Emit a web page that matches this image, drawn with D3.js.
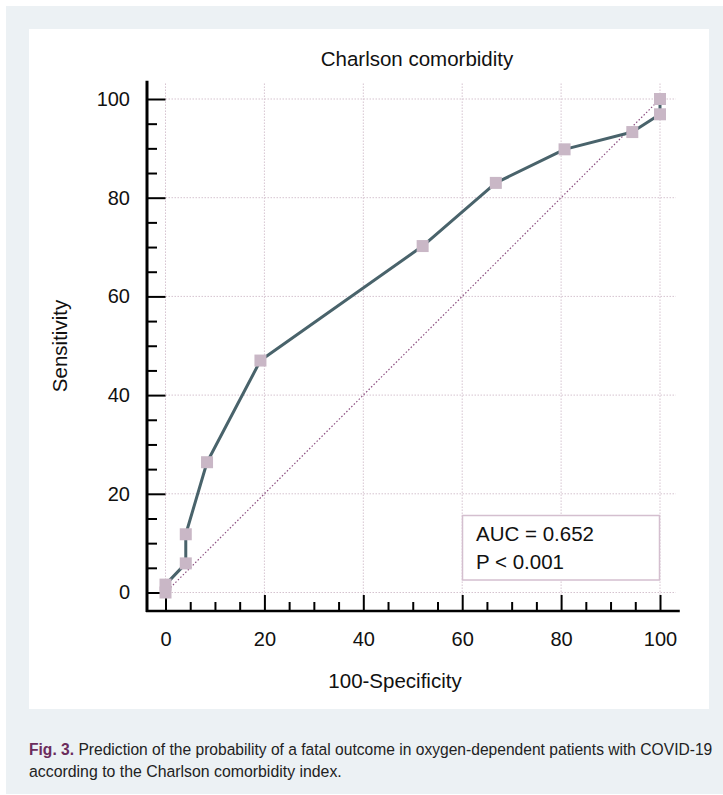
<!DOCTYPE html>
<html>
<head>
<meta charset="utf-8">
<script src="https://cdn.jsdelivr.net/npm/d3@7"></script>
<style>
  body { margin: 0; background: #fff; }
  svg { display: block; font-family: "Liberation Sans", Arial, sans-serif; }
</style>
</head>
<body>
<div id="chart"></div>
<script>
// data
const specComplement = [0, 0, 4.1, 4.1, 8.4, 19.2, 52, 66.8, 80.7, 94.4, 100, 100];
const sensitivity = [0, 1.6, 5.9, 11.8, 26.4, 47, 70.2, 83, 89.8, 93.3, 96.9, 100];
const majorTicks = [0, 20, 40, 60, 80, 100];
const minorTicks = [5, 10, 15, 25, 30, 35, 45, 50, 55, 65, 70, 75, 85, 90, 95];
const aucText = ["AUC = 0.652", "P < 0.001"];
const points = specComplement.map((x, i) => ({ x: x, y: sensitivity[i] }));

const W = 723, H = 795;
const svg = d3.select("#chart").append("svg").attr("width", W).attr("height", H);

// panel background
svg.append("rect").attr("x", 6).attr("y", 6).attr("width", W - 6).attr("height", 788).attr("fill", "#ecf1f4");
svg.append("rect").attr("x", 29).attr("y", 29).attr("width", 680).attr("height", 680).attr("fill", "#fff");

// scales
const xScale = d3.scaleLinear().domain([0, 100]).range([165.5, 660]);
const yScale = d3.scaleLinear().domain([0, 100]).range([592.5, 99]);
const axisX = 147;   // y axis line position
const axisY = 611;   // x axis line position

// grid
const grid = svg.append("g").attr("stroke", "#d5c3cf").attr("stroke-width", 1).attr("stroke-dasharray", "1.5,1.5");
grid.selectAll(".gh").data(majorTicks).enter().append("line")
  .attr("x1", xScale(0)).attr("x2", xScale(103.2))
  .attr("y1", d => yScale(d)).attr("y2", d => yScale(d));
grid.selectAll(".gv").data(majorTicks).enter().append("line")
  .attr("x1", d => xScale(d)).attr("x2", d => xScale(d))
  .attr("y1", yScale(-0.5)).attr("y2", yScale(103.2));

// axes
const yAxis = d3.axisLeft(yScale).tickValues(majorTicks).tickSizeInner(-(xScale(0) - axisX)).tickSizeOuter(0).tickPadding(17);
const yMinor = d3.axisLeft(yScale).tickValues(minorTicks).tickSizeInner(-10).tickSizeOuter(0).tickFormat("");
const xAxis = d3.axisBottom(xScale).tickValues(majorTicks).tickSizeInner(-16).tickSizeOuter(0).tickPadding(21);
const xMinor = d3.axisBottom(xScale).tickValues(minorTicks).tickSizeInner(-9).tickSizeOuter(0).tickFormat("");

function styleAxis(g) {
  g.select(".domain").remove();
  g.selectAll("line").attr("stroke", "#000").attr("stroke-width", 2);
  g.selectAll("text").attr("font-size", 20).attr("fill", "#111").attr("font-family", "Liberation Sans, Arial, sans-serif");
}
svg.append("g").attr("transform", `translate(${axisX},0)`).call(yAxis).call(styleAxis);
svg.append("g").attr("transform", `translate(${axisX},0)`).call(yMinor).call(styleAxis);
svg.append("g").attr("transform", `translate(0,${axisY})`).call(xAxis).call(styleAxis);
svg.append("g").attr("transform", `translate(0,${axisY})`).call(xMinor).call(styleAxis);

svg.append("line").attr("x1", axisX).attr("x2", axisX).attr("y1", yScale(103.7)).attr("y2", axisY + 1)
  .attr("stroke", "#000").attr("stroke-width", 3);
svg.append("line").attr("x1", axisX - 1).attr("x2", xScale(104)).attr("y1", axisY).attr("y2", axisY)
  .attr("stroke", "#000").attr("stroke-width", 2.5);

// diagonal reference
svg.append("line")
  .attr("x1", xScale(0)).attr("y1", yScale(0)).attr("x2", xScale(100)).attr("y2", yScale(100))
  .attr("stroke", "#8c4f80").attr("stroke-width", 1.2).attr("stroke-dasharray", "1.5,2");

// ROC curve
const line = d3.line().x(d => xScale(d.x)).y(d => yScale(d.y));
svg.append("path").datum(points).attr("d", line)
  .attr("fill", "none").attr("stroke", "#49636b").attr("stroke-width", 3).attr("stroke-linejoin", "round");

const sq = 12;
svg.selectAll(".pt").data(points).enter().append("rect")
  .attr("x", d => xScale(d.x) - sq / 2).attr("y", d => yScale(d.y) - sq / 2)
  .attr("width", sq).attr("height", sq).attr("fill", "#c9b7c6");

// AUC box
svg.append("rect").attr("x", 462.5).attr("y", 515.5).attr("width", 197).attr("height", 64.5)
  .attr("fill", "#fff").attr("stroke", "#d4bfcf").attr("stroke-width", 1.5);
svg.selectAll(".auc").data(aucText).enter().append("text")
  .attr("x", 476).attr("y", (d, i) => 541 + i * 28)
  .attr("font-size", 20.5).attr("fill", "#111").text(d => d);

// titles
svg.append("text").attr("x", 417).attr("y", 66).attr("text-anchor", "middle")
  .attr("font-size", 20.5).attr("fill", "#111").text("Charlson comorbidity");
svg.append("text").attr("x", 395).attr("y", 688).attr("text-anchor", "middle")
  .attr("font-size", 20.5).attr("fill", "#111").text("100-Specificity");
svg.append("text").attr("transform", "translate(67,346) rotate(-90)").attr("text-anchor", "middle")
  .attr("font-size", 20.5).attr("fill", "#111").text("Sensitivity");

// caption: no condensed face installed, so squeeze each line horizontally
const cap = svg.append("g").attr("font-family", "'Liberation Sans', Arial, sans-serif")
  .attr("font-size", 16.5).attr("fill", "#222");
function squeeze(t, x, y, width) {
  const w = t.node().getComputedTextLength();
  t.attr("transform", `translate(${x},${y}) scale(${width / w},1)`);
}
const l1 = cap.append("text");
l1.append("tspan").attr("fill", "#6b2c5c").attr("font-weight", "bold").text("Fig. 3.");
l1.append("tspan").text(" Prediction of the probability of a fatal outcome in oxygen-dependent patients with COVID-19");
squeeze(l1, 29, 755, 684);
const l2 = cap.append("text").text("according to the Charlson comorbidity index.");
squeeze(l2, 29, 777, 313);
</script>
</body>
</html>
